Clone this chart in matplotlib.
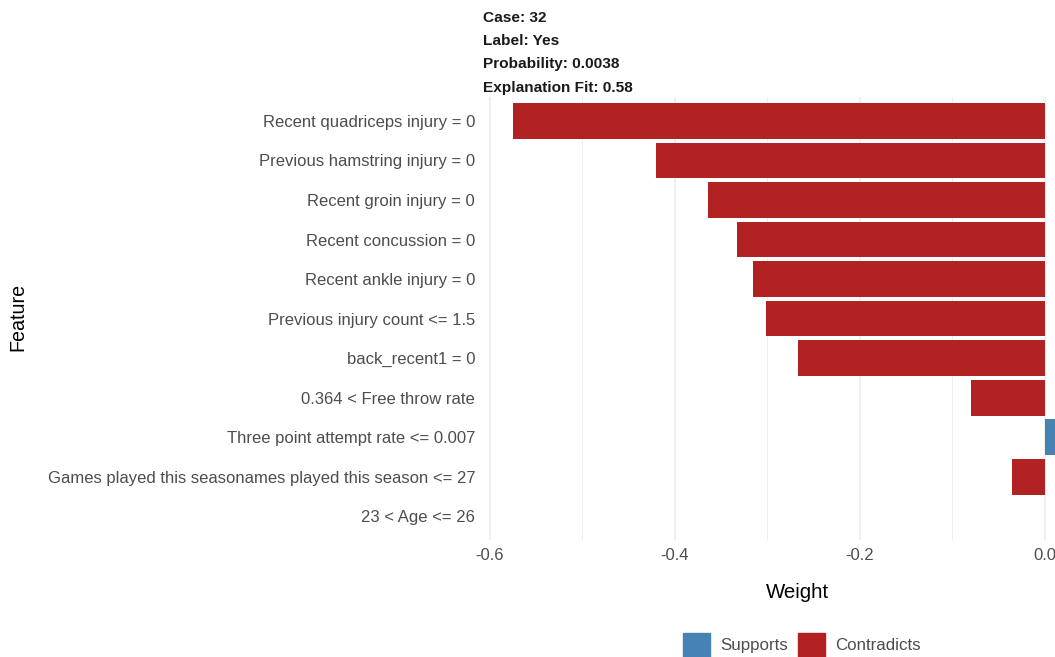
#!/usr/bin/env python3
"""
LIME-style feature weight chart for a single case (cropped on the right like the source).
"""

import matplotlib
matplotlib.use("Agg")
import matplotlib.pyplot as plt
from matplotlib.patches import Patch
from matplotlib.ticker import MultipleLocator

# Case header
CASE_ID = 32
CASE_LABEL = "Yes"
PROBABILITY = 0.0038
EXPLANATION_FIT = 0.58

# Features, top to bottom, and their weights
FEATURES = [
    "Recent quadriceps injury = 0",
    "Previous hamstring injury = 0",
    "Recent groin injury = 0",
    "Recent concussion = 0",
    "Recent ankle injury = 0",
    "Previous injury count <= 1.5",
    "back_recent1 = 0",
    "0.364 < Free throw rate",
    "Three point attempt rate <= 0.007",
    "Games played this seasonames played this season <= 27",
    "23 < Age <= 26",
]
WEIGHTS = [-0.575, -0.42, -0.364, -0.333, -0.316, -0.302, -0.267, -0.08, 0.042, -0.036, 0.0]

# Appearance
SUPPORT_COLOR = "#4682B4"
CONTRADICT_COLOR = "#B22222"
GRID_COLOR = "#EBEBEB"
TEXT_GREY = "#4D4D4D"
FONT = ["Liberation Sans", "DejaVu Sans"]


def main():
    plt.rcParams["font.family"] = FONT

    fig = plt.figure(figsize=(10.55, 6.57), dpi=100)
    # the panel runs past the right edge of the figure, as in the cropped original
    ax = fig.add_axes([0.453, 0.178, 0.605, 0.674])

    rows = list(range(len(FEATURES)))
    colors = [SUPPORT_COLOR if w > 0 else CONTRADICT_COLOR for w in WEIGHTS]
    ax.barh(rows, WEIGHTS, height=0.9, color=colors, zorder=2)

    ax.set_ylim(len(FEATURES) - 0.4, -0.6)
    ax.set_xlim(-0.613, 0.077)
    ax.set_yticks(rows)
    ax.set_yticklabels(FEATURES)

    ax.xaxis.set_major_locator(MultipleLocator(0.2))
    ax.xaxis.set_minor_locator(MultipleLocator(0.1))
    ax.xaxis.set_major_formatter(lambda v, _: f"{v:.1f}")
    ax.grid(True, axis="x", which="major", color=GRID_COLOR, linewidth=1.1, zorder=0)
    ax.grid(True, axis="x", which="minor", color=GRID_COLOR, linewidth=0.6, zorder=0)
    ax.tick_params(axis="both", which="both", length=0, labelsize=12.0, labelcolor=TEXT_GREY)
    ax.tick_params(axis="y", pad=2)
    ax.tick_params(axis="x", pad=6)
    for spine in ax.spines.values():
        spine.set_visible(False)

    ax.set_xlabel("Weight", fontsize=14.7, color="black", labelpad=14)
    fig.text(18 / 1055, 1 - 317 / 657, "Feature", rotation=90, fontsize=14.2,
             ha="center", va="center")

    header = (
        f"Case: {CASE_ID}\n"
        f"Label: {CASE_LABEL}\n"
        f"Probability: {PROBABILITY}\n"
        f"Explanation Fit: {EXPLANATION_FIT}"
    )
    fig.text(483 / 1055, 1 - 11 / 657, header, fontsize=11.1, fontweight="bold",
             ha="left", va="top", linespacing=1.84, color="#1A1A1A")

    handles = [Patch(color=SUPPORT_COLOR, label="Supports"),
               Patch(color=CONTRADICT_COLOR, label="Contradicts")]
    fig.legend(handles=handles, loc="center", bbox_to_anchor=(802 / 1055, 1 - 645 / 657),
               ncol=2, frameon=False, fontsize=12.2, handlelength=1.6, handleheight=1.75,
               columnspacing=0.6, handletextpad=0.6, labelcolor=TEXT_GREY)

    fig.savefig("out.png", dpi=100)


if __name__ == "__main__":
    main()
